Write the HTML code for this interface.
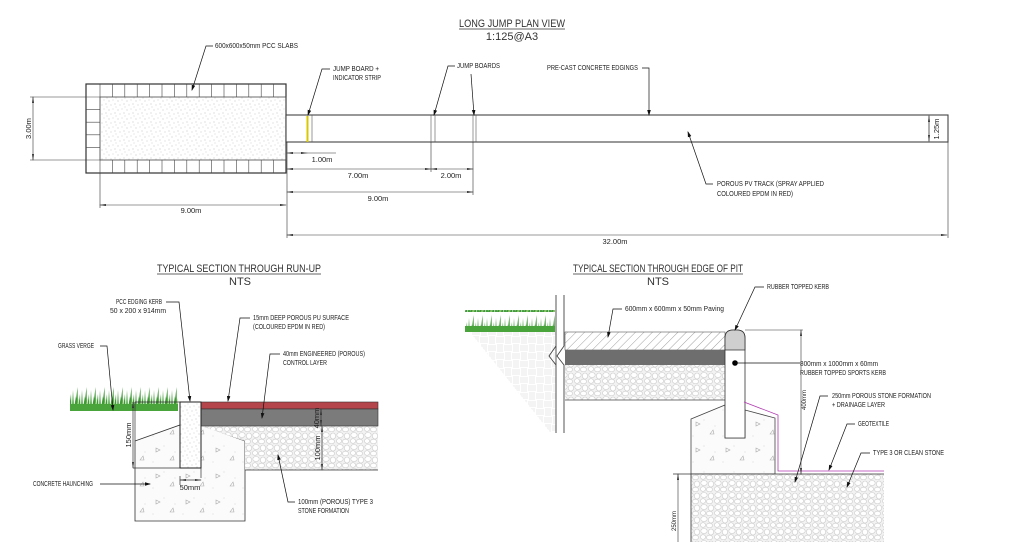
<!DOCTYPE html>
<html><head><meta charset="utf-8"><style>
html,body{margin:0;padding:0;background:#fff}
svg{display:block}
text{font-family:"Liberation Sans Narrow","Liberation Sans",sans-serif;font-size:7.5px;fill:#222}
.t{font-size:11px;fill:#333}
</style></head><body>
<svg width="1024" height="542" viewBox="0 0 1024 542" xmlns="http://www.w3.org/2000/svg">
<defs>
<pattern id="sand" width="9" height="9" patternUnits="userSpaceOnUse">
<circle cx="1" cy="2" r=".4" fill="#777"/><circle cx="5" cy="1" r=".4" fill="#999"/><circle cx="3" cy="6" r=".4" fill="#888"/><circle cx="7" cy="5" r=".4" fill="#777"/><circle cx="8" cy="8" r=".4" fill="#999"/>
</pattern>
<pattern id="stone" width="14" height="12" patternUnits="userSpaceOnUse">
<rect width="14" height="12" fill="#f2f2f2"/>
<ellipse cx="4" cy="3" rx="3.2" ry="2.5" fill="#fff" stroke="#ccc" stroke-width=".6"/>
<ellipse cx="11" cy="4" rx="2.6" ry="3" fill="#fff" stroke="#ccc" stroke-width=".6"/>
<ellipse cx="3" cy="9" rx="2.6" ry="2.3" fill="#fff" stroke="#ccc" stroke-width=".6"/>
<ellipse cx="9.5" cy="9.5" rx="3" ry="2.3" fill="#fff" stroke="#ccc" stroke-width=".6"/>
</pattern>
<pattern id="conc" width="30" height="26" patternUnits="userSpaceOnUse">
<rect width="30" height="26" fill="#fbfbfb"/>
<path d="M6 6 l4 2 l-4 2z M20 18 l3 -4 l1 4z" fill="none" stroke="#aaa" stroke-width=".6"/>
<circle cx="14" cy="4" r=".4" fill="#aaa"/><circle cx="25" cy="10" r=".4" fill="#aaa"/><circle cx="3" cy="20" r=".4" fill="#aaa"/>
</pattern>
<pattern id="hatch" width="6" height="6" patternUnits="userSpaceOnUse" patternTransform="rotate(45)">
<rect width="6" height="6" fill="#fff"/><line x1="0" y1="0" x2="0" y2="6" stroke="#777" stroke-width=".7"/>
</pattern>
<pattern id="weave" width="16" height="16" patternUnits="userSpaceOnUse">
<rect width="16" height="16" fill="#fff"/>
<path d="M0 2h8M0 4h8M0 6h8M10 0v8M12 0v8M14 0v8M2 8v8M4 8v8M6 8v8M8 10h8M8 12h8M8 14h8" stroke="#e2e2e2" stroke-width=".7"/>
</pattern>
<pattern id="grass" width="9" height="24" patternUnits="userSpaceOnUse">
<path d="M0 24 L1 6 L2 24 M2 24 L4 12 L4.5 24 M3 24 L5.5 3 L6 24 M6 24 L8 10 L8.5 24" fill="#3d9a34"/>
<path d="M4 24 L6.5 14 L6 24" fill="#8cc46a"/>
</pattern>
<marker id="a" markerWidth="6" markerHeight="6" refX="5" refY="3" orient="auto" markerUnits="userSpaceOnUse"><path d="M0 1.2 L6 3 L0 4.8z" fill="#111"/></marker>
<marker id="d" markerWidth="7" markerHeight="6" refX="6" refY="3" orient="auto-start-reverse" markerUnits="userSpaceOnUse"><path d="M0 2 L7 3 L0 4z" fill="#333"/></marker>
</defs>

<!-- Title -->
<text class="t" x="459" y="27" textLength="106" lengthAdjust="spacingAndGlyphs">LONG JUMP PLAN VIEW</text>
<line x1="459" y1="29" x2="565" y2="29" stroke="#333" stroke-width=".7"/>
<text class="t" x="512" y="40" text-anchor="middle">1:125@A3</text>

<!-- Pit -->
<rect x="86" y="84" width="200" height="89" fill="#fff" stroke="#333" stroke-width="1.2"/>
<rect x="100" y="97" width="186" height="63" fill="url(#sand)" stroke="#555" stroke-width=".6"/>
<g stroke="#444" stroke-width=".6">
<line x1="86" y1="97" x2="286" y2="97"/><line x1="86" y1="160" x2="286" y2="160"/>
<line x1="100" y1="84" x2="100" y2="173"/>
<path d="M112.4 84v13M124.8 84v13M137.2 84v13M149.6 84v13M162 84v13M174.4 84v13M186.8 84v13M199.2 84v13M211.6 84v13M224 84v13M236.4 84v13M248.8 84v13M261.2 84v13M273.6 84v13"/>
<path d="M112.4 160v13M124.8 160v13M137.2 160v13M149.6 160v13M162 160v13M174.4 160v13M186.8 160v13M199.2 160v13M211.6 160v13M224 160v13M236.4 160v13M248.8 160v13M261.2 160v13M273.6 160v13"/>
<path d="M86 109.6h14M86 122.2h14M86 134.8h14M86 147.4h14"/>
</g>
<!-- Track -->
<rect x="286" y="115" width="662" height="27" fill="#fff" stroke="#444" stroke-width="1.1"/>
<rect x="306.5" y="116" width="2" height="26" fill="#d9c800"/>
<g stroke="#555" stroke-width=".6">
<line x1="312" y1="115" x2="312" y2="142"/><line x1="431" y1="115" x2="431" y2="142"/><line x1="435" y1="115" x2="435" y2="142"/>
<line x1="473" y1="115" x2="473" y2="142"/><line x1="476" y1="115" x2="476" y2="142"/><line x1="929" y1="115" x2="929" y2="142"/>
</g>
<!-- Dimensions plan -->
<g stroke="#333" stroke-width=".6" fill="none">
<line x1="30" y1="97" x2="86" y2="97"/><line x1="30" y1="160" x2="86" y2="160"/>
<line x1="33" y1="97" x2="33" y2="160" marker-start="url(#d)" marker-end="url(#d)"/>
<line x1="287" y1="153" x2="307" y2="153" marker-start="url(#d)" marker-end="url(#d)"/><line x1="307" y1="153" x2="336" y2="153"/>
<line x1="287" y1="142" x2="287" y2="238"/>
<line x1="431" y1="142" x2="431" y2="172"/><line x1="473" y1="142" x2="473" y2="195"/>
<line x1="287" y1="169" x2="431" y2="169" marker-start="url(#d)" marker-end="url(#d)"/>
<line x1="431" y1="169" x2="473" y2="169" marker-start="url(#d)" marker-end="url(#d)"/>
<line x1="287" y1="192" x2="473" y2="192" marker-start="url(#d)" marker-end="url(#d)"/>
<line x1="100" y1="173" x2="100" y2="208"/>
<line x1="100" y1="205" x2="286" y2="205" marker-start="url(#d)" marker-end="url(#d)"/>
<line x1="948" y1="142" x2="948" y2="238"/>
<line x1="287" y1="235" x2="947" y2="235" marker-start="url(#d)" marker-end="url(#d)"/>
<line x1="929" y1="116" x2="929" y2="141" marker-start="url(#d)" marker-end="url(#d)"/>
</g>
<text x="33" y="128.5" transform="rotate(-90 33 128.5)" text-anchor="middle" dy="-2">3.00m</text>
<text x="322" y="162" text-anchor="middle">1.00m</text>
<text x="358" y="178" text-anchor="middle">7.00m</text>
<text x="451" y="178" text-anchor="middle">2.00m</text>
<text x="378" y="201" text-anchor="middle">9.00m</text>
<text x="191" y="213" text-anchor="middle">9.00m</text>
<text x="615" y="244" text-anchor="middle">32.00m</text>
<text x="939" y="129" transform="rotate(-90 939 129)" text-anchor="middle">1.25m</text>
<!-- Plan labels -->
<g stroke="#111" stroke-width=".7" fill="none">
<polyline points="213,46 206,46 192,90" marker-end="url(#a)"/>
<polyline points="330,69 322,69 308,115" marker-end="url(#a)"/>
<polyline points="455,66 448,66 434,115" marker-end="url(#a)"/>
<polyline points="471,74 474,115" marker-end="url(#a)"/>
<polyline points="642,68 649,68 649,115" marker-end="url(#a)"/>
<polyline points="713,184 706,184 688,132" marker-end="url(#a)"/>
</g>
<text x="215" y="48" textLength="83" lengthAdjust="spacingAndGlyphs">600x600x50mm PCC SLABS</text>
<text x="333" y="71" textLength="46" lengthAdjust="spacingAndGlyphs">JUMP BOARD +</text><text x="333" y="80" textLength="48" lengthAdjust="spacingAndGlyphs">INDICATOR STRIP</text>
<text x="457" y="68" textLength="43" lengthAdjust="spacingAndGlyphs">JUMP BOARDS</text>
<text x="547" y="70" textLength="91" lengthAdjust="spacingAndGlyphs">PRE-CAST CONCRETE EDGINGS</text>
<text x="717" y="186" textLength="107" lengthAdjust="spacingAndGlyphs">POROUS PV TRACK (SPRAY APPLIED</text><text x="717" y="196" textLength="76" lengthAdjust="spacingAndGlyphs">COLOURED EPDM IN RED)</text>

<!-- Section 1 -->
<text class="t" x="157" y="272" textLength="164" lengthAdjust="spacingAndGlyphs">TYPICAL SECTION THROUGH RUN-UP</text>
<line x1="157" y1="274" x2="321" y2="274" stroke="#333" stroke-width=".7"/>
<text class="t" x="240" y="285" text-anchor="middle">NTS</text>
<rect x="70" y="386" width="108" height="25" fill="url(#grass)"/>
<rect x="70" y="404" width="108" height="7" fill="#4aa43c"/>
<path d="M135 441 L180 425 L180 468 L201 468 L201 425 L245 441 L245 521 L135 521Z" fill="url(#conc)" stroke="#333" stroke-width=".8"/>
<path d="M201 426 L378 426 L378 470 L245 470 L245 441Z" fill="url(#stone)"/>
<line x1="245" y1="470" x2="378" y2="470" stroke="#333" stroke-width=".7"/>
<rect x="201" y="402" width="177" height="7" fill="#b4454a" stroke="#333" stroke-width=".6"/>
<rect x="201" y="409" width="177" height="17" fill="#7b7b7b" stroke="#333" stroke-width=".6"/>
<rect x="180" y="402" width="21" height="66" fill="url(#sand)" stroke="#222" stroke-width="1"/>
<g stroke="#333" stroke-width=".7" fill="none">
<line x1="135" y1="402" x2="135" y2="441"/><line x1="135" y1="402" x2="180" y2="402"/>
<line x1="133" y1="468" x2="180" y2="468"/><line x1="201" y1="468" x2="201" y2="478"/>
<line x1="133" y1="402" x2="133" y2="468" marker-start="url(#d)" marker-end="url(#d)"/>
<line x1="180" y1="480" x2="201" y2="480" marker-start="url(#d)" marker-end="url(#d)"/><line x1="180" y1="476" x2="180" y2="485"/>
<line x1="321" y1="409" x2="321" y2="426" marker-start="url(#d)" marker-end="url(#d)"/>
<line x1="322" y1="426" x2="322" y2="470" marker-start="url(#d)" marker-end="url(#d)"/>
</g>
<text x="131" y="435" transform="rotate(-90 131 435)" text-anchor="middle">150mm</text>
<text x="190" y="490" text-anchor="middle">50mm</text>
<text x="319" y="418" transform="rotate(-90 319 418)" text-anchor="middle">40mm</text>
<text x="320" y="448" transform="rotate(-90 320 448)" text-anchor="middle">100mm</text>
<g stroke="#111" stroke-width=".7" fill="none">
<polyline points="166,302 179,302 190,401" marker-end="url(#a)"/>
<polyline points="250,318 240,318 228,401" marker-end="url(#a)"/>
<polyline points="280,354 270,354 262,418" marker-end="url(#a)"/>
<polyline points="100,346 107,346 113,410" marker-end="url(#a)"/>
<polyline points="100,484 150,484" marker-end="url(#a)"/>
<polyline points="295,502 288,502 278,455" marker-end="url(#a)"/>
</g>
<text x="116" y="304" textLength="46" lengthAdjust="spacingAndGlyphs">PCC EDGING KERB</text><text x="110" y="313" textLength="56" lengthAdjust="spacingAndGlyphs">50 x 200 x 914mm</text>
<text x="253" y="320" textLength="96" lengthAdjust="spacingAndGlyphs">15mm DEEP POROUS PU SURFACE</text><text x="253" y="329" textLength="72" lengthAdjust="spacingAndGlyphs">(COLOURED EPDM IN RED)</text>
<text x="283" y="356" textLength="82" lengthAdjust="spacingAndGlyphs">40mm ENGINEERED (POROUS)</text><text x="283" y="365" textLength="44" lengthAdjust="spacingAndGlyphs">CONTROL LAYER</text>
<text x="58" y="348" textLength="36" lengthAdjust="spacingAndGlyphs">GRASS VERGE</text>
<text x="33" y="486" textLength="60" lengthAdjust="spacingAndGlyphs">CONCRETE HAUNCHING</text>
<text x="298" y="504" textLength="75" lengthAdjust="spacingAndGlyphs">100mm (POROUS) TYPE 3</text><text x="298" y="513" textLength="51" lengthAdjust="spacingAndGlyphs">STONE FORMATION</text>

<!-- Section 2 -->
<text class="t" x="573" y="272" textLength="170" lengthAdjust="spacingAndGlyphs">TYPICAL SECTION THROUGH EDGE OF PIT</text>
<line x1="573" y1="274" x2="743" y2="274" stroke="#333" stroke-width=".7"/>
<text class="t" x="658" y="285" text-anchor="middle">NTS</text>
<path d="M470 332 L556 332 L556 432 L550 432Z" fill="url(#weave)"/>
<rect x="465" y="310" width="90" height="22" fill="url(#grass)"/>
<rect x="465" y="326" width="90" height="6" fill="#4aa43c"/>
<rect x="565" y="332" width="160" height="18" fill="url(#hatch)" stroke="#555" stroke-width=".6"/>
<rect x="565" y="350" width="160" height="15" fill="#6e6e6e"/>
<rect x="565" y="365" width="160" height="35" fill="url(#stone)"/>
<line x1="565" y1="400" x2="725" y2="400" stroke="#444" stroke-width=".8"/>
<path d="M556 295 L556 433 M564 295 V346 L557 356 L564 365 V433" stroke="#444" stroke-width=".9" fill="none"/>
<path d="M556 346 L549 356 L556 365" stroke="#444" stroke-width=".9" fill="none"/>
<path d="M691 419 L725 405 L725 438 L745 438 L745 410 L775 418 L775 474 L691 474Z" fill="url(#conc)" stroke="#444" stroke-width=".8"/>
<rect x="691" y="474" width="193" height="70" fill="url(#stone)"/>
<line x1="673" y1="474" x2="884" y2="474" stroke="#333" stroke-width=".8"/>
<line x1="691" y1="474" x2="691" y2="542" stroke="#333" stroke-width=".8"/>
<path d="M725 438 V338 Q725 330 733 330 H737 Q745 330 745 338 V438Z" fill="#fff" stroke="#333" stroke-width=".8"/>
<path d="M725 350 V338 Q725 330 733 330 H737 Q745 330 745 338 V350Z" fill="#cfcfcf" stroke="#333" stroke-width=".8"/>
<circle cx="735" cy="363" r="2.8" fill="#000"/>
<polyline points="744,402 778,415 778,471 884,471" stroke="#b03ab0" stroke-width=".8" fill="none"/>
<g stroke="#333" stroke-width=".6" fill="none">
<line x1="745" y1="330" x2="803" y2="330"/>
<line x1="801" y1="330" x2="801" y2="474" marker-start="url(#d)" marker-end="url(#d)"/>
<line x1="678" y1="474" x2="678" y2="542" marker-start="url(#d)"/>
</g>
<text x="806" y="400" transform="rotate(-90 806 400)" text-anchor="middle" style="font-size:6px">400mm</text>
<text x="676" y="521" transform="rotate(-90 676 521)" text-anchor="middle" style="font-size:6px">250mm</text>
<g stroke="#111" stroke-width=".7" fill="none">
<polyline points="622,309 613,309 608,337" marker-end="url(#a)"/>
<polyline points="764,287 755,287 735,330" marker-end="url(#a)"/>
<line x1="735" y1="363" x2="800" y2="363"/>
<polyline points="828,396 820,396 795,482" marker-end="url(#a)"/>
<polyline points="855,424 847,424 829,470" marker-end="url(#a)"/>
<polyline points="870,453 861,453 847,487" marker-end="url(#a)"/>
</g>
<text x="625" y="311" textLength="99" lengthAdjust="spacingAndGlyphs">600mm x 600mm x 50mm Paving</text>
<text x="767" y="289" textLength="62" lengthAdjust="spacingAndGlyphs">RUBBER TOPPED KERB</text>
<text x="800" y="366" textLength="78" lengthAdjust="spacingAndGlyphs">800mm x 1000mm x 60mm</text><text x="800" y="375" textLength="86" lengthAdjust="spacingAndGlyphs">RUBBER TOPPED SPORTS KERB</text>
<text x="832" y="398" textLength="99" lengthAdjust="spacingAndGlyphs">250mm POROUS STONE FORMATION</text><text x="832" y="407" textLength="53" lengthAdjust="spacingAndGlyphs">+ DRAINAGE LAYER</text>
<text x="858" y="426" textLength="31" lengthAdjust="spacingAndGlyphs">GEOTEXTILE</text>
<text x="873" y="455" textLength="71" lengthAdjust="spacingAndGlyphs">TYPE 3 OR CLEAN STONE</text>
</svg>
</body></html>
